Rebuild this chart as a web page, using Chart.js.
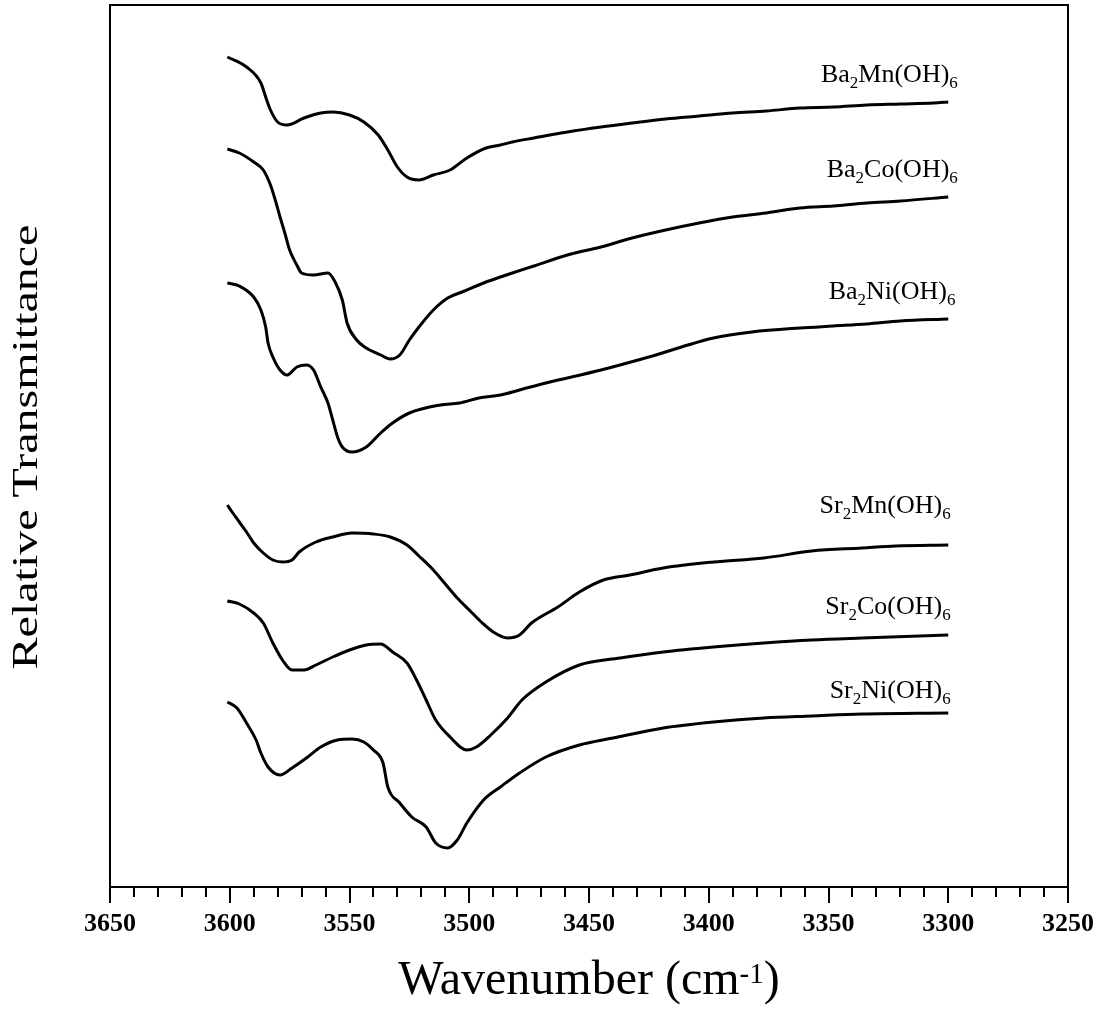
<!DOCTYPE html>
<html>
<head>
<meta charset="utf-8">
<script src="https://cdn.jsdelivr.net/npm/chart.js@4.4.1/dist/chart.umd.min.js"></script>
<style>
  html, body { margin: 0; padding: 0; background: #fff; }
  #wrap { width: 1100px; height: 1010px; }
</style>
</head>
<body>
<div id="wrap"><canvas id="chart" width="1100" height="1010"></canvas></div>
<script>
// axis ranges (wavenumber runs right to left)
const xMin = 3250, xMax = 3650, majorStep = 50, minorStep = 10;
const yMin = 0, yMax = 882; // relative transmittance, arbitrary offset units

// spectra: wavenumber (cm-1) and relative transmittance
const ba2MnWn = [3601, 3593, 3587, 3585, 3583, 3580, 3576, 3569, 3562, 3557, 3550, 3544, 3538, 3534, 3530, 3526, 3521, 3515, 3508, 3501, 3493, 3487, 3482, 3473, 3459, 3445, 3432, 3418, 3404, 3390, 3376, 3362, 3348, 3334, 3320, 3306, 3300];
const ba2MnT = [830, 820, 804, 790, 777, 765, 762, 769, 774, 775, 772, 765, 752, 737, 720, 710, 707, 712, 717, 729, 739, 742, 745, 749, 755, 760, 764, 768, 771, 774, 776, 779, 780, 782, 783, 784, 785];

const ba2CoWn = [3601, 3596, 3590, 3586, 3583, 3581, 3579, 3577, 3575, 3572, 3570, 3565, 3559, 3556, 3553, 3551, 3547, 3543, 3537, 3533, 3529, 3525, 3521, 3515, 3509, 3503, 3493, 3487, 3482, 3473, 3459, 3445, 3432, 3418, 3404, 3390, 3376, 3362, 3348, 3334, 3320, 3300];
const ba2CoT = [738, 734, 725, 717, 702, 687, 670, 654, 637, 622, 614, 612, 614, 605, 587, 564, 547, 539, 532, 528, 532, 547, 560, 577, 589, 595, 605, 610, 614, 621, 632, 640, 649, 657, 664, 670, 674, 679, 681, 684, 686, 690];

const ba2NiWn = [3601, 3596, 3590, 3587, 3585, 3584, 3582, 3579, 3576, 3572, 3568, 3565, 3562, 3559, 3557, 3555, 3553, 3549, 3543, 3537, 3532, 3525, 3512, 3504, 3496, 3487, 3479, 3468, 3445, 3425, 3398, 3382, 3362, 3348, 3334, 3320, 3300];
const ba2NiT = [604, 601, 590, 577, 560, 544, 530, 517, 512, 520, 522, 517, 500, 484, 467, 450, 440, 435, 440, 454, 464, 474, 482, 484, 489, 492, 497, 504, 517, 530, 549, 555, 559, 561, 563, 566, 568];

const sr2MnWn = [3601, 3599, 3596, 3593, 3590, 3586, 3582, 3578, 3574, 3571, 3564, 3557, 3549, 3540, 3533, 3526, 3521, 3515, 3510, 3505, 3500, 3495, 3490, 3484, 3479, 3474, 3463, 3454, 3444, 3433, 3419, 3398, 3377, 3357, 3336, 3322, 3300];
const sr2MnT = [382, 375, 365, 355, 344, 334, 327, 325, 327, 335, 345, 350, 354, 353, 350, 342, 331, 317, 303, 289, 277, 265, 255, 249, 252, 264, 280, 295, 307, 312, 319, 325, 329, 336, 339, 341, 342];

const sr2CoWn = [3601, 3596, 3590, 3586, 3582, 3578, 3574, 3569, 3564, 3557, 3550, 3543, 3537, 3532, 3526, 3522, 3518, 3514, 3508, 3501, 3497, 3491, 3484, 3478, 3468, 3454, 3437, 3419, 3398, 3377, 3357, 3336, 3300];
const sr2CoT = [286, 283, 274, 264, 244, 227, 217, 217, 222, 230, 237, 242, 243, 235, 224, 207, 187, 167, 150, 137, 140, 152, 169, 187, 205, 222, 229, 235, 240, 244, 247, 249, 252];

const sr2NiWn = [3601, 3597, 3593, 3589, 3587, 3584, 3579, 3574, 3568, 3562, 3555, 3549, 3544, 3540, 3536, 3534, 3529, 3524, 3518, 3514, 3509, 3505, 3501, 3494, 3487, 3479, 3468, 3454, 3440, 3419, 3398, 3377, 3357, 3336, 3300];
const sr2NiT = [185, 179, 164, 147, 134, 120, 112, 119, 129, 140, 147, 148, 145, 137, 124, 100, 84, 70, 60, 44, 39, 47, 64, 87, 100, 114, 130, 142, 149, 159, 165, 169, 171, 173, 174];

// curve labels: "_{..}" is a subscript, anchored at (wavenumber, transmittance), right aligned
const curveLabels = ['Ba_{2}Mn(OH)_{6}', 'Ba_{2}Co(OH)_{6}', 'Ba_{2}Ni(OH)_{6}', 'Sr_{2}Mn(OH)_{6}', 'Sr_{2}Co(OH)_{6}', 'Sr_{2}Ni(OH)_{6}'];
const labelWn = [3296, 3296, 3297, 3299, 3299, 3299];
const labelT = [805, 710, 588, 374, 273, 189];

const xTitle = 'Wavenumber (cm^{-1})';
const yTitle = 'Relative Transmittance';

const serif = "'Liberation Serif', 'Times New Roman', serif";

function toPoints(wn, t) {
  return wn.map((w, i) => ({ x: w, y: t[i] }));
}

function spectrum(label, wn, t) {
  return {
    label,
    data: toPoints(wn, t),
    borderColor: '#000',
    borderWidth: 3,
    pointRadius: 0,
    fill: false,
    cubicInterpolationMode: 'monotone'
  };
}

// split "A_{2}B^{-1}" into parts with a shift flag (0 normal, 1 sub, -1 sup)
function richParts(text) {
  const parts = [];
  const re = /(_|\^)\{([^}]*)\}/g;
  let last = 0, m;
  while ((m = re.exec(text)) !== null) {
    if (m.index > last) parts.push({ t: text.slice(last, m.index), s: 0 });
    parts.push({ t: m[2], s: m[1] === '_' ? 1 : -1 });
    last = re.lastIndex;
  }
  if (last < text.length) parts.push({ t: text.slice(last), s: 0 });
  return parts;
}

function drawRich(ctx, text, px, py, size, align, opts) {
  const o = Object.assign({ small: 0.64, sub: 0.22, sup: 0.24 }, opts || {});
  const parts = richParts(text);
  const fontFor = p => (p.s === 0 ? size : Math.round(size * o.small)) + 'px ' + serif;
  let total = 0;
  parts.forEach(p => { ctx.font = fontFor(p); p.w = ctx.measureText(p.t).width; total += p.w; });
  let cx = align === 'right' ? px - total : align === 'center' ? px - total / 2 : px;
  ctx.textAlign = 'left';
  ctx.textBaseline = 'alphabetic';
  parts.forEach(p => {
    ctx.font = fontFor(p);
    const dy = p.s === 1 ? size * o.sub : p.s === -1 ? -size * o.sup : 0;
    ctx.fillText(p.t, cx, py + dy);
    cx += p.w;
  });
}

const decor = {
  id: 'decor',
  beforeDraw(chart) {
    const ctx = chart.ctx;
    ctx.save();
    ctx.fillStyle = '#fff';
    ctx.fillRect(0, 0, chart.width, chart.height);
    ctx.restore();
  },
  afterDraw(chart) {
    const { ctx, chartArea: a, scales: { x, y } } = chart;
    ctx.save();
    ctx.strokeStyle = '#000';
    ctx.fillStyle = '#000';
    ctx.lineWidth = 2;
    ctx.strokeRect(a.left, a.top, a.right - a.left, a.bottom - a.top);

    // minor ticks
    ctx.beginPath();
    for (let v = xMin; v <= xMax; v += minorStep) {
      if (v % majorStep === 0) continue;
      const px = Math.round(x.getPixelForValue(v));
      ctx.moveTo(px, a.bottom);
      ctx.lineTo(px, a.bottom + 10);
    }
    ctx.stroke();

    curveLabels.forEach((lab, i) => {
      drawRich(ctx, lab, x.getPixelForValue(labelWn[i]), y.getPixelForValue(labelT[i]), 26, 'right');
    });

    // x title with superscript
    drawRich(ctx, xTitle, (a.left + a.right) / 2, 994, 48, 'center', { small: 0.6, sup: 0.22 });

    // y title, rotated and a bit compressed like the original
    ctx.translate(37, (a.top + a.bottom) / 2 + 1);
    ctx.rotate(-Math.PI / 2);
    ctx.scale(1, 0.75);
    ctx.font = '48px ' + serif;
    ctx.textAlign = 'center';
    ctx.textBaseline = 'alphabetic';
    ctx.fillText(yTitle, 0, 0);
    ctx.restore();
  }
};

new Chart(document.getElementById('chart').getContext('2d'), {
  type: 'line',
  data: {
    datasets: [
      spectrum('Ba2Mn(OH)6', ba2MnWn, ba2MnT),
      spectrum('Ba2Co(OH)6', ba2CoWn, ba2CoT),
      spectrum('Ba2Ni(OH)6', ba2NiWn, ba2NiT),
      spectrum('Sr2Mn(OH)6', sr2MnWn, sr2MnT),
      spectrum('Sr2Co(OH)6', sr2CoWn, sr2CoT),
      spectrum('Sr2Ni(OH)6', sr2NiWn, sr2NiT)
    ]
  },
  options: {
    responsive: false,
    devicePixelRatio: 1,
    animation: false,
    layout: { padding: { left: 110, right: 32, top: 5, bottom: 0 } },
    plugins: {
      legend: { display: false },
      tooltip: { enabled: false }
    },
    scales: {
      x: {
        type: 'linear',
        reverse: true,
        min: xMin,
        max: xMax,
        afterFit: s => { s.height = 123; },
        border: { display: false },
        grid: {
          drawOnChartArea: false,
          drawTicks: true,
          tickLength: 16,
          color: '#000',
          lineWidth: 2
        },
        ticks: {
          stepSize: majorStep,
          padding: 6,
          color: '#000',
          maxRotation: 0,
          autoSkip: false,
          font: { family: serif, size: 26, weight: 'bold' },
          callback: v => String(v)
        }
      },
      y: {
        display: false,
        min: yMin,
        max: yMax
      }
    }
  },
  plugins: [decor]
});
</script>
</body>
</html>
